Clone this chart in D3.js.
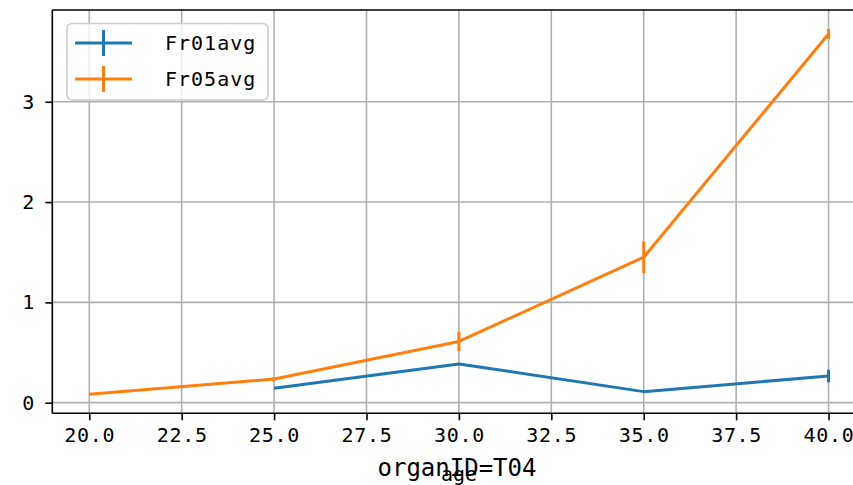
<!DOCTYPE html>
<html><head><meta charset="utf-8">
<script src="https://cdn.jsdelivr.net/npm/d3@7"></script>
<style>body{margin:0;background:#fff}svg{display:block}</style>
</head><body>
<script>
const ages = [20, 25, 30, 35, 40];
const fr01Ages = [25, 30, 35, 40];
const fr01Values = [0.143, 0.386, 0.11, 0.266];
const fr01Errors = [0.0, 0.0, 0.0, 0.063];
const fr05Ages = [20, 25, 30, 35, 40];
const fr05Values = [0.084, 0.236, 0.61, 1.45, 3.676];
const fr05Errors = [0.0, 0.02, 0.097, 0.158, 0.05];
const xTicks = [20, 22.5, 25, 27.5, 30, 32.5, 35, 37.5, 40];
const yTicks = [0, 1, 2, 3];
const seriesNames = ["Fr01avg", "Fr05avg"];
const colors = ["#1f77b4", "#ff7f0e"];

const W = 853, H = 485;
const svg = d3.select("body").append("svg").attr("width", W).attr("height", H);
const x = d3.scaleLinear().domain([19, 41]).range([52.3, 865.5]);
const y = d3.scaleLinear().domain([-0.106, 3.915]).range([413.3, 10]);
const mono = "'DejaVu Sans Mono', monospace";

// grid
const g = svg.append("g");
g.selectAll(".gx").data(xTicks).enter().append("line")
  .attr("x1", d => x(d)).attr("x2", d => x(d)).attr("y1", y.range()[0]).attr("y2", y.range()[1])
  .attr("stroke", "#b0b0b0").attr("stroke-width", 1.6);
g.selectAll(".gy").data(yTicks).enter().append("line")
  .attr("y1", d => y(d)).attr("y2", d => y(d)).attr("x1", x.range()[0]).attr("x2", x.range()[1])
  .attr("stroke", "#b0b0b0").attr("stroke-width", 1.6);

const series = [
  {name: seriesNames[0], xs: fr01Ages, v: fr01Values, e: fr01Errors, c: colors[0]},
  {name: seriesNames[1], xs: fr05Ages, v: fr05Values, e: fr05Errors, c: colors[1]}
];
const line = d3.line().x(d => x(d[0])).y(d => y(d[1]));
series.forEach(s => {
  const pts = s.xs.map((a, i) => [a, s.v[i], s.e[i]]);
  svg.append("path").datum(pts).attr("d", line).attr("fill", "none")
    .attr("stroke", s.c).attr("stroke-width", 3).attr("stroke-linejoin", "round");
  svg.selectAll(null).data(pts.filter(p => p[2] > 0)).enter().append("line")
    .attr("x1", d => x(d[0])).attr("x2", d => x(d[0]))
    .attr("y1", d => y(d[1] - d[2])).attr("y2", d => y(d[1] + d[2]))
    .attr("stroke", s.c).attr("stroke-width", 3);
});

// axes
const xAxis = d3.axisBottom(x).tickValues(xTicks).tickFormat(d3.format(".1f")).tickSize(7).tickPadding(8);
const yAxis = d3.axisLeft(y).tickValues(yTicks).tickFormat(d3.format("d")).tickSize(7).tickPadding(11);
const gx = svg.append("g").attr("transform", `translate(0,${y.range()[0]})`).call(xAxis);
const gy = svg.append("g").attr("transform", `translate(${x.range()[0]},0)`).call(yAxis);
[gx, gy].forEach(a => {
  a.select(".domain").remove();
  a.selectAll(".tick line").attr("stroke", "#000").attr("stroke-width", 1.6);
  a.selectAll(".tick text").attr("font-family", mono).attr("font-size", 20).attr("fill", "#000");
});
gx.selectAll(".tick text").attr("letter-spacing", 0.7);
// spines
svg.append("line").attr("x1", x.range()[0]).attr("x2", x.range()[0]).attr("y1", y.range()[0]).attr("y2", y.range()[1]).attr("stroke", "#000").attr("stroke-width", 1.6);
svg.append("line").attr("x1", x.range()[0]).attr("x2", W).attr("y1", y.range()[0]).attr("y2", y.range()[0]).attr("stroke", "#000").attr("stroke-width", 1.6);
svg.append("line").attr("x1", x.range()[0]).attr("x2", W).attr("y1", y.range()[1]).attr("y2", y.range()[1]).attr("stroke", "#000").attr("stroke-width", 1.6);

// legend
const lg = svg.append("g");
lg.append("rect").attr("x", 67).attr("y", 23.5).attr("width", 201).attr("height", 76.5).attr("rx", 5)
  .attr("fill", "#fff").attr("fill-opacity", 0.8).attr("stroke", "#ccc").attr("stroke-width", 1.6);
series.forEach((s, i) => {
  const cy = 43 + i * 36;
  lg.append("line").attr("x1", 75).attr("x2", 132).attr("y1", cy).attr("y2", cy).attr("stroke", s.c).attr("stroke-width", 3);
  lg.append("line").attr("x1", 103.5).attr("x2", 103.5).attr("y1", cy - 13).attr("y2", cy + 13).attr("stroke", s.c).attr("stroke-width", 3);
  lg.append("text").attr("x", 165).attr("y", cy + 7).attr("font-family", mono).attr("font-size", 20)
    .attr("letter-spacing", 1).attr("fill", "#000").text(s.name);
});

// labels
svg.append("text").attr("x", 459).attr("y", 481).attr("text-anchor", "middle")
  .attr("font-family", mono).attr("font-size", 20).text("age");
svg.append("text").attr("x", 457).attr("y", 476).attr("text-anchor", "middle")
  .attr("font-family", mono).attr("font-size", 24).text("organID=T04");
</script>
</body></html>
